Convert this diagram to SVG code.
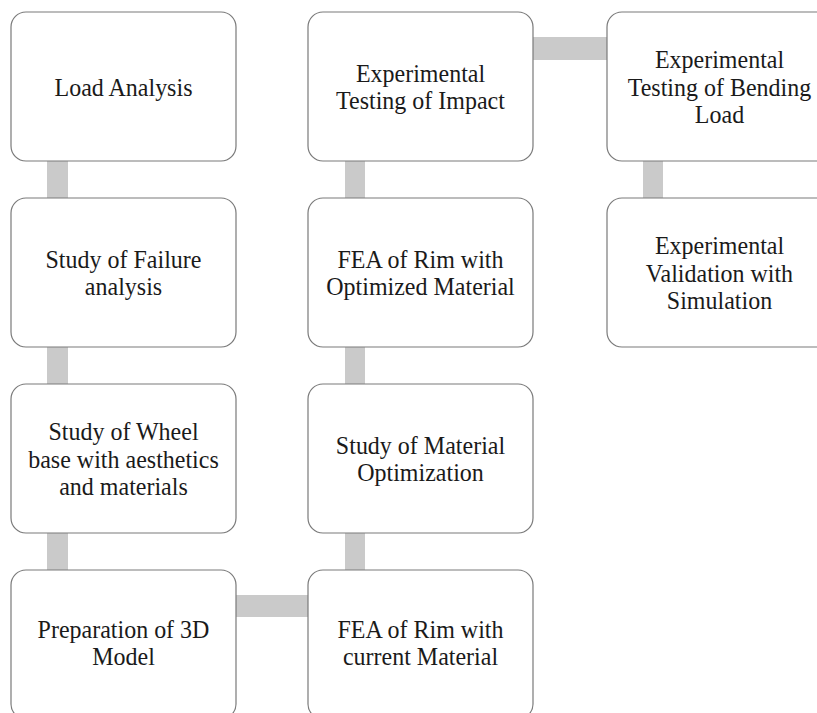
<svg xmlns="http://www.w3.org/2000/svg" width="817" height="713" viewBox="0 0 817 713">
<style>
.box{fill:#ffffff;stroke:#7a7a7a;stroke-width:1.2}
.conn{fill:#cacaca;stroke:none}
.lbl{font-family:"Liberation Serif","Times New Roman",serif;font-size:24px;fill:#1a1a1a;text-anchor:middle;transform-box:fill-box;transform-origin:center;transform:scaleY(1.08)}
</style>
<rect x="0" y="0" width="817" height="713" fill="#ffffff"/>
<g id="connectors">
<rect class="conn" x="47" y="158" width="21" height="43"/>
<rect class="conn" x="47" y="344" width="21" height="43"/>
<rect class="conn" x="47" y="530" width="21" height="43"/>
<rect class="conn" x="345" y="158" width="20" height="43"/>
<rect class="conn" x="345" y="344" width="20" height="43"/>
<rect class="conn" x="345" y="530" width="20" height="43"/>
<rect class="conn" x="643" y="158" width="20" height="43"/>
<rect class="conn" x="530" y="37" width="80" height="23"/>
<rect class="conn" x="233" y="595" width="78" height="22"/>
</g>
<g id="n1"><rect class="box" x="11" y="12" width="225" height="149" rx="15"/><text class="lbl" x="123.5" y="95">Load Analysis</text></g>
<g id="n2"><rect class="box" x="11" y="198" width="225" height="149" rx="15"/><text class="lbl" x="123.5" y="267.25">Study of Failure</text><text class="lbl" x="123.5" y="294.75">analysis</text></g>
<g id="n3"><rect class="box" x="11" y="384" width="225" height="149" rx="15"/><text class="lbl" x="123.5" y="439.5">Study of Wheel</text><text class="lbl" x="123.5" y="467">base with aesthetics</text><text class="lbl" x="123.5" y="494.5">and materials</text></g>
<g id="n4"><rect class="box" x="11" y="570" width="225" height="149" rx="15"/><text class="lbl" x="123.5" y="637">Preparation of 3D</text><text class="lbl" x="123.5" y="664.5">Model</text></g>
<g id="n5"><rect class="box" x="308" y="570" width="225" height="149" rx="15"/><text class="lbl" x="420.5" y="637">FEA of Rim with</text><text class="lbl" x="420.5" y="664.5">current Material</text></g>
<g id="n6"><rect class="box" x="308" y="384" width="225" height="149" rx="15"/><text class="lbl" x="420.5" y="453.25">Study of Material</text><text class="lbl" x="420.5" y="480.75">Optimization</text></g>
<g id="n7"><rect class="box" x="308" y="198" width="225" height="149" rx="15"/><text class="lbl" x="420.5" y="267.25">FEA of Rim with</text><text class="lbl" x="420.5" y="294.75">Optimized Material</text></g>
<g id="n8"><rect class="box" x="308" y="12" width="225" height="149" rx="15"/><text class="lbl" x="420.5" y="81.25">Experimental</text><text class="lbl" x="420.5" y="108.75">Testing of Impact</text></g>
<g id="n9"><rect class="box" x="607" y="12" width="225" height="149" rx="15"/><text class="lbl" x="719.5" y="67.5">Experimental</text><text class="lbl" x="719.5" y="95">Testing of Bending</text><text class="lbl" x="719.5" y="122.5">Load</text></g>
<g id="n10"><rect class="box" x="607" y="198" width="225" height="149" rx="15"/><text class="lbl" x="719.5" y="253.5">Experimental</text><text class="lbl" x="719.5" y="281">Validation with</text><text class="lbl" x="719.5" y="308.5">Simulation</text></g>
</svg>
